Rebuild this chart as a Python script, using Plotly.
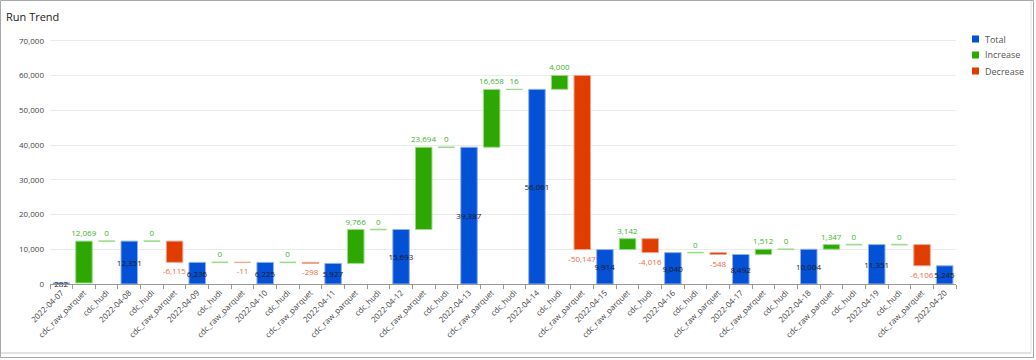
import plotly.graph_objects as go

categories = ["2022-04-07", "cdc_raw_parquet", "cdc_hudi", "2022-04-08", "cdc_hudi", "cdc_raw_parquet",
              "2022-04-09", "cdc_hudi", "cdc_raw_parquet", "2022-04-10", "cdc_hudi", "cdc_raw_parquet",
              "2022-04-11", "cdc_raw_parquet", "cdc_hudi", "2022-04-12", "cdc_raw_parquet", "cdc_hudi",
              "2022-04-13", "cdc_raw_parquet", "cdc_hudi", "2022-04-14", "cdc_hudi", "cdc_raw_parquet",
              "2022-04-15", "cdc_raw_parquet", "cdc_hudi", "2022-04-16", "cdc_hudi", "cdc_raw_parquet",
              "2022-04-17", "cdc_raw_parquet", "cdc_hudi", "2022-04-18", "cdc_raw_parquet", "cdc_hudi",
              "2022-04-19", "cdc_hudi", "cdc_raw_parquet", "2022-04-20"]
measures = ["absolute", "relative", "relative", "total", "relative", "relative",
            "total", "relative", "relative", "total", "relative", "relative",
            "total", "relative", "relative", "total", "relative", "relative",
            "total", "relative", "relative", "total", "relative", "relative",
            "total", "relative", "relative", "total", "relative", "relative",
            "total", "relative", "relative", "total", "relative", "relative",
            "total", "relative", "relative", "total"]
values = [282, 12069, 0, 12351, 0, -6115,
          6236, 0, -11, 6225, 0, -298,
          5927, 9766, 0, 15693, 23694, 0,
          39387, 16658, 16, 56061, 4000, -50147,
          9914, 3142, -4016, 9040, 0, -548,
          8492, 1512, 0, 10004, 1347, 0,
          11351, 0, -6106, 5245]
legend_names = ["Total", "Increase", "Decrease"]

C_TOTAL, C_INC, C_DEC = "#0451D6", "#2EA800", "#E03C00"
L_TOTAL, L_INC, L_DEC = "#8FB0EE", "#9BDC8C", "#F2A48C"
T_TOTAL, T_INC, T_DEC = "#1a1a1a", "#3DB52A", "#F26A45"
GAP = 0.27

x = list(range(len(categories)))
texts, tpos, tcol = [], [], []
for m, v in zip(measures, values):
    texts.append(f"{v:,}")
    if m != "relative":
        tpos.append("inside"); tcol.append(T_TOTAL)
    elif v < 0:
        tpos.append("outside"); tcol.append(T_DEC)
    else:
        tpos.append("outside"); tcol.append(T_INC)

# running level, used to draw zero-height steps (plotly skips empty bars)
zx, zy = [], []
level = 0
for i, (m, v) in enumerate(zip(measures, values)):
    if m == "absolute":
        level = v
    elif m == "relative":
        if v == 0:
            zx += [i - (1 - GAP) / 2, i + (1 - GAP) / 2, None]
            zy += [level, level, None]
        level += v

fig = go.Figure()
fig.add_trace(go.Scatter(x=zx, y=zy, mode="lines", line=dict(color=L_INC, width=1.6),
                         showlegend=False, hoverinfo="skip", cliponaxis=False))
fig.add_trace(go.Waterfall(
    x=x, y=values, measure=measures,
    text=texts, textposition=tpos, textangle=0,
    textfont=dict(color=tcol, size=8, family="Open Sans"),
    constraintext="none", insidetextanchor="middle",
    totals=dict(marker=dict(color=C_TOTAL, line=dict(color=L_TOTAL, width=1))),
    increasing=dict(marker=dict(color=C_INC, line=dict(color=L_INC, width=1))),
    decreasing=dict(marker=dict(color=C_DEC, line=dict(color=L_DEC, width=1))),
    connector=dict(visible=False), showlegend=False, cliponaxis=False, hoverinfo="x+y",
))

W, H = 1036, 360
ml, mr, mt, mb = 50, 80, 34, 76
pw, ph = W - ml - mr, H - mt - mb
def px(xp): return (xp - ml) / pw
def py(yp): return (H - mb - yp) / ph

shapes = [
    dict(type="rect", xref="paper", yref="paper", x0=px(0.5), x1=px(1033.5), y0=py(0.5), y1=py(357.5),
         line=dict(color="#a8a8a8", width=1), layer="below"),
    dict(type="line", xref="paper", yref="paper", x0=px(1), x1=px(1031), y0=py(353), y1=py(353),
         line=dict(color="#e2e2e2", width=2), layer="below"),
    dict(type="line", xref="paper", yref="paper", x0=px(1031), x1=px(1031), y0=py(1), y1=py(353),
         line=dict(color="#e2e2e2", width=1), layer="below"),
]
annotations = []
for k, (name, col) in enumerate(zip(legend_names, [C_TOTAL, C_INC, C_DEC])):
    cy = 39 + 16 * k
    shapes.append(dict(type="rect", xref="paper", yref="paper", x0=px(972), x1=px(979),
                       y0=py(cy + 3.5), y1=py(cy - 3.5), fillcolor=col, line=dict(width=0)))
    annotations.append(dict(text=name, xref="paper", yref="paper", x=px(982.5), y=py(cy),
                            xanchor="left", yanchor="middle", showarrow=False,
                            font=dict(size=9, color="#555")))

fig.update_layout(
    width=W, height=H, margin=dict(l=ml, r=mr, t=mt, b=mb),
    paper_bgcolor="white", plot_bgcolor="white", showlegend=False,
    font=dict(family="Open Sans", color="#333", size=8),
    waterfallgap=GAP,
    title=dict(text="Run Trend", x=6 / W, xanchor="left", y=1 - 17 / H, yanchor="middle",
               font=dict(size=11, color="#222")),
    xaxis=dict(tickmode="array", tickvals=x, ticktext=categories, tickangle=-45,
               range=[-0.5, len(categories) - 0.5], ticks="", showgrid=False,
               showline=True, linecolor="#999", linewidth=1, zeroline=False,
               tickfont=dict(size=8, color="#444"),
               minor=dict(tick0=0.5, dtick=1, ticks="outside", ticklen=4, tickcolor="#999", showgrid=False)),
    yaxis=dict(range=[0, 72000], dtick=10000, tickformat=",", showgrid=True, gridcolor="#ebebeb",
               zeroline=False, showline=False, ticks="", ticklabelstandoff=5,
               tickfont=dict(size=8, color="#444")),
    shapes=shapes, annotations=annotations,
)
fig.write_html("out.html", config={"displayModeBar": False},
               post_script="document.body.style.margin='0';document.body.style.padding='0';")
